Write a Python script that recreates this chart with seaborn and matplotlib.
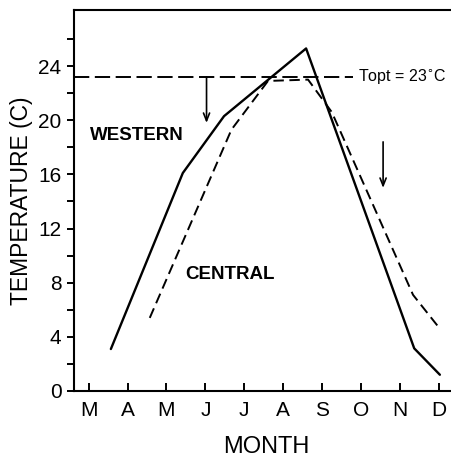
import matplotlib
matplotlib.use("Agg")
import matplotlib.pyplot as plt
import seaborn as sns
import pandas as pd
import numpy as np

# ---- data ----
western_month = [3.57, 5.42, 6.48, 8.59, 11.37, 12.03]
western_temp = [3.1, 16.1, 20.3, 25.3, 3.15, 1.2]

central_month = [4.57, 6.67, 7.61, 8.64, 9.25, 11.34, 12.03]
central_temp = [5.4, 19.3, 22.9, 23.0, 20.6, 7.1, 4.6]

month_ticks = [3, 4, 5, 6, 7, 8, 9, 10, 11, 12]
month_labels = ["M", "A", "M", "J", "J", "A", "S", "O", "N", "D"]
temp_ticks = list(range(0, 28, 2))
temp_labels = [str(t) if t % 4 == 0 else "" for t in temp_ticks]

topt = 23.2
topt_end = 9.79
topt_label = "Topt = 23$^{\\circ}$C"

arrow_x = [6.03, 10.57]
arrow_from = [23.2, 18.4]
arrow_to = [19.8, 15.0]

# ---- style ----
sns.set_style("ticks")
plt.rcParams["font.family"] = ["Liberation Sans", "DejaVu Sans"]
plt.rcParams["lines.scale_dashes"] = False
for k in ["text.color", "axes.labelcolor", "xtick.color", "ytick.color", "axes.edgecolor"]:
    plt.rcParams[k] = "black"

df_w = pd.DataFrame({"month": western_month, "temp": western_temp})
df_c = pd.DataFrame({"month": central_month, "temp": central_temp})

fig = plt.figure(figsize=(4.51, 4.59), dpi=100)
ax = fig.add_axes([74 / 451, 1 - 391 / 459, 377 / 451, 381 / 459])

sns.lineplot(data=df_w, x="month", y="temp", ax=ax, color="black",
             linewidth=1.7, sort=False, estimator=None)
sns.lineplot(data=df_c, x="month", y="temp", ax=ax, color="black",
             linewidth=1.4, sort=False, estimator=None, dashes=False)
ax.lines[1].set_dashes((7.5, 4.0))

ax.set_xlim(2.622, 12.316)
ax.set_ylim(0, 28.14)

# Topt line
ax.hlines(topt, ax.get_xlim()[0], topt_end, colors="black", linewidth=1.4,
          linestyles=(0, (11, 4)))
ax.text(topt_end + 0.13, topt, topt_label, fontsize=11.5, va="center", ha="left")

# arrows
for xa, y0, y1 in zip(arrow_x, arrow_from, arrow_to):
    ax.annotate("", xy=(xa, y1), xytext=(xa, y0),
                arrowprops=dict(arrowstyle="->,head_length=0.55,head_width=0.22",
                                color="black", lw=1.2, shrinkA=0, shrinkB=0))

ax.text(3.03, 18.9, "WESTERN", fontsize=13.5, fontweight="bold", va="center", ha="left")
ax.text(5.49, 8.57, "CENTRAL", fontsize=13.5, fontweight="bold", va="center", ha="left")

# axes styling
ax.set_xticks(month_ticks)
ax.set_xticklabels(month_labels)
ax.set_yticks(temp_ticks)
ax.set_yticklabels(temp_labels)
ax.tick_params(axis="x", direction="in", length=5.5, width=1.4, pad=7, labelsize=15)
ax.tick_params(axis="y", direction="out", length=5, width=1.4, pad=4, labelsize=15)
for s in ["left", "top", "bottom"]:
    ax.spines[s].set_linewidth(1.5)
    ax.spines[s].set_color("black")
ax.spines["right"].set_visible(False)

ax.set_xlabel("MONTH", fontsize=17)
ax.set_ylabel("TEMPERATURE (C)", fontsize=16.5)
ax.xaxis.set_label_coords(0.511, -0.118)
ax.yaxis.set_label_coords(-0.11, 0.5)

fig.savefig("out.png", dpi=100)
